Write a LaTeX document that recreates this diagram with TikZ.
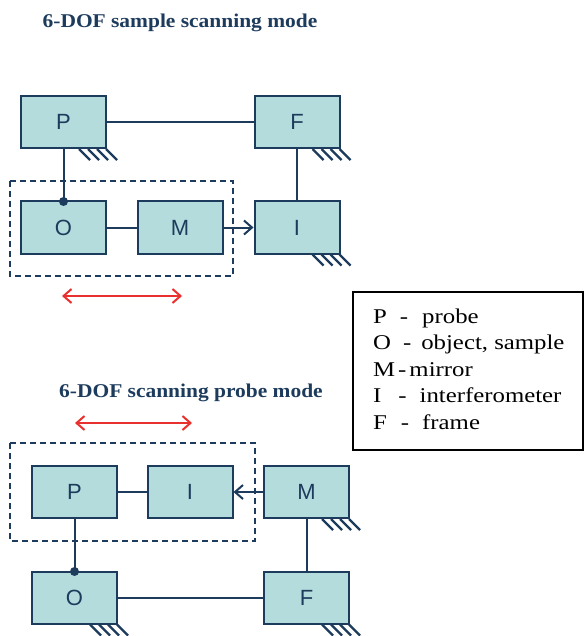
\documentclass[tikz,border=0pt]{standalone}
\usepackage{fontspec}
\setmainfont{Liberation Serif}
\newfontfamily\boxfont{Liberation Sans}
\newfontfamily\legendfont[FakeStretch=1.18]{Liberation Serif}
\newfontfamily\titlefont[FakeStretch=1.1]{Liberation Serif}
\usepackage{tikz}
\usetikzlibrary{arrows.meta,positioning}

\definecolor{navy}{HTML}{1D3B5C}
\definecolor{boxfill}{HTML}{B4DCDC}
\definecolor{scanred}{HTML}{E8302E}

% ground hatch below the lower right corner of a body
\newcommand{\groundmark}[1]{%
  \draw[hatchline] ([xshift=-28pt]#1.south east) -- ++(11pt,-11pt);
  \draw[hatchline] ([xshift=-19pt]#1.south east) -- ++(11pt,-11pt);
  \draw[hatchline] ([xshift=-10pt]#1.south east) -- ++(11pt,-11pt);
  \draw[hatchline] ([xshift=-1pt]#1.south east) -- ++(11pt,-11pt);
}

\begin{document}
\begin{tikzpicture}[
            x=1pt,y=-1pt,
            body/.style={draw=navy,fill=boxfill,line width=2pt,minimum width=85pt,minimum height=52pt,
                         font=\boxfont\fontsize{22}{26}\selectfont,text=navy},
            link/.style={draw=navy,line width=2pt},
            hatchline/.style={draw=navy,line width=2.2pt},
            group/.style={draw=navy,line width=1.8pt,dash pattern=on 6pt off 4pt},
            beam/.style={link,-{Straight Barb[length=8pt,width=14pt,line width=2pt]}},
            scan/.style={draw=scanred,line width=2pt,{Straight Barb[length=8pt,width=14pt]}-{Straight Barb[length=8pt,width=14pt]}},
            title/.style={font=\titlefont\bfseries\fontsize{19.5}{22}\selectfont,text=navy,anchor=base},
            legline/.style={font=\legendfont\fontsize{21}{25}\selectfont,anchor=base west,inner sep=0}
          ]
          \useasboundingbox (0,0) rectangle (586,636);

          %sample scanning mode
          \node[title] (t1) at (180,28) {6-DOF sample scanning mode};
          \node[body] (P1) at (63.5,122) {P};
          \node[body] (F1) at (297,122) {F};
          \node[body] (O1) at (63.5,227.5) {O};
          \node[body] (M1) at (180,227.5) {M};
          \node[body] (I1) at (297,227.5) {I};
          \draw[group] (10,181) rectangle (233,276);
          \path[link]
          (P1) -- (F1)
          (F1) -- (I1)
          (O1) -- (M1)
          ;
          \draw[link] (P1) -- (O1.north);
          \fill[navy] (O1.north) ++(0,-1pt) circle (4.5pt);
          \draw[beam] (M1) -- (I1);
          \groundmark{P1}
          \groundmark{F1}
          \groundmark{I1}
          \coordinate (s1a) at (62,296);
          \coordinate (s1b) at (182,296);
          \draw[scan] (s1a) -- (s1b);

          %scanning probe mode
          \node[title] (t2) at (191,397) {6-DOF scanning probe mode};
          \coordinate (s2a) at (75,423);
          \coordinate (s2b) at (192,423);
          \draw[scan] (s2a) -- (s2b);
          \node[body] (P2) at (74.5,492) {P};
          \node[body] (I2) at (190,492) {I};
          \node[body] (M2) at (306.5,492) {M};
          \node[body] (O2) at (74.5,597.5) {O};
          \node[body] (F2) at (306.5,597.5) {F};
          \draw[group] (10,443) rectangle (255,541);
          \path[link]
          (P2) -- (I2)
          (M2) -- (F2)
          (O2) -- (F2)
          ;
          \draw[link] (P2) -- (O2.north);
          \fill[navy] (O2.north) ++(0,-1pt) circle (4.5pt);
          \draw[beam] (M2) -- (I2);
          \groundmark{M2}
          \groundmark{O2}
          \groundmark{F2}

          %legend
          \node[draw=black,line width=1.5pt,minimum width=230pt,minimum height=158pt] (legend) at (468,371) {};
          \node[legline] (l1) at (373,323) {P\hspace{13pt}-\hspace{14pt}probe};
          \node[legline] (l2) at (373,349.5) {O\hspace{12pt}-\hspace{10pt}object, sample};
          \node[legline] (l3) at (373,376) {M\hspace{3pt}-\hspace{3pt}mirror};
          \node[legline] (l4) at (373,402.5) {I\hspace{17pt}-\hspace{13pt}interferometer};
          \node[legline] (l5) at (373,429) {F\hspace{14pt}-\hspace{13pt}frame};

      \end{tikzpicture}
\end{document}
